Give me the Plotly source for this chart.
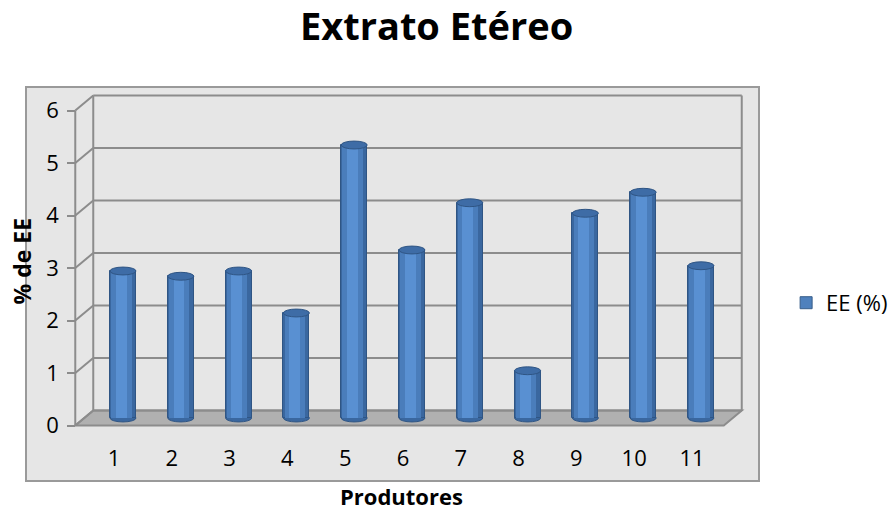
import plotly.graph_objects as go

# ---- data ----
categories = [1, 2, 3, 4, 5, 6, 7, 8, 9, 10, 11]
ee_values = [2.8, 2.7, 2.8, 2.0, 5.2, 3.2, 4.1, 0.9, 3.9, 4.3, 2.9]
y_ticks = [0, 1, 2, 3, 4, 5, 6]
series_name = "EE (%)"
title_text = "Extrato Etéreo"
x_title = "Produtores"
y_title = "% de EE"

FONT = "Open Sans"
GRID = "#8c8c8c"

# ---- geometry (data units of the mid-depth axes) ----
X0, X1 = -0.678, 12.004
Y0, Y1 = -1.2, 6.305
DX, DY = 0.311, 0.286          # front -> back depth offset
BW = 0.45                      # cylinder width
RY = 0.075                     # ellipse half-height

xl = min(categories) - 0.5 - 0.17   # mid-depth left edge of floor
xr = max(categories) + 0.5 + 0.05   # mid-depth right edge
fxl, fxr = xl - DX / 2, xr - DX / 2  # front edges
bxl, bxr = xl + DX / 2, xr + DX / 2  # back edges
ymax = max(y_ticks)

fig = go.Figure()

# cylinder body: layered bars for shading
fig.add_trace(go.Bar(x=categories, y=ee_values, width=BW, name=series_name,
                     marker=dict(color="#3a679f", line=dict(color="#2f5584", width=1)),
                     showlegend=False, hoverinfo="skip"))
fig.add_trace(go.Bar(x=categories, y=ee_values, width=BW * 0.78, offset=-BW * 0.45,
                     marker=dict(color="#4a7dbb", line=dict(width=0)),
                     showlegend=False, hoverinfo="skip"))
fig.add_trace(go.Bar(x=categories, y=ee_values, width=BW * 0.42, offset=-BW * 0.28,
                     marker=dict(color="#5990d2", line=dict(width=0)),
                     showlegend=False, hoverinfo="skip"))
# legend entry + activation of secondary axes
fig.add_trace(go.Bar(x=categories, y=[None] * len(categories), xaxis="x2", yaxis="y2",
                     name=series_name,
                     marker=dict(color="#4f81bd", line=dict(color="#385d8a", width=1)),
                     showlegend=True, hoverinfo="skip"))

shapes = []
# floor
shapes.append(dict(type="path", xref="x", yref="y", layer="below",
                   path=f"M {fxl},{-DY/2} L {fxr},{-DY/2} L {bxr},{DY/2} L {bxl},{DY/2} Z",
                   fillcolor="#b0b0b0", line=dict(color=GRID, width=2)))
# back wall gridlines + side diagonals
for v in y_ticks:
    shapes.append(dict(type="line", xref="x", yref="y", layer="below",
                       x0=bxl, x1=bxr, y0=v + DY / 2, y1=v + DY / 2,
                       line=dict(color=GRID, width=2)))
    shapes.append(dict(type="line", xref="x", yref="y", layer="below",
                       x0=fxl, x1=bxl, y0=v - DY / 2, y1=v + DY / 2,
                       line=dict(color=GRID, width=2)))
# back wall verticals
for xx in (bxl, bxr):
    shapes.append(dict(type="line", xref="x", yref="y", layer="below",
                       x0=xx, x1=xx, y0=DY / 2, y1=ymax + DY / 2,
                       line=dict(color=GRID, width=2)))
# front axis line
shapes.append(dict(type="line", xref="x", yref="y", layer="below",
                   x0=fxl, x1=fxl, y0=-DY / 2, y1=ymax - DY / 2,
                   line=dict(color=GRID, width=2)))
# cylinder bottom and top ellipses
for c, v in zip(categories, ee_values):
    shapes.append(dict(type="circle", xref="x", yref="y", layer="below",
                       x0=c - BW / 2, x1=c + BW / 2, y0=-RY, y1=RY,
                       fillcolor="#3a679f", line=dict(color="#2f5584", width=1)))
    shapes.append(dict(type="circle", xref="x", yref="y", layer="above",
                       x0=c - BW / 2, x1=c + BW / 2, y0=v - RY, y1=v + RY,
                       fillcolor="#3e6ca6", line=dict(color="#2f5584", width=1)))
# outer plot-area border
shapes.append(dict(type="rect", xref="paper", yref="paper", x0=0, x1=1, y0=0, y1=1,
                   line=dict(color="#9a9a9a", width=2), layer="above"))

fig.update_layout(
    width=891, height=511,
    margin=dict(l=26, r=132, t=87, b=30, autoexpand=False),
    paper_bgcolor="white", plot_bgcolor="#e6e6e6",
    barmode="overlay", bargap=0,
    font=dict(family=FONT, size=21, color="black"),
    title=dict(text=f"<b>{title_text}</b>", font=dict(family=FONT, size=38, color="black"),
               xref="container", yref="container", x=0.49, y=0.947,
               xanchor="center", yanchor="middle"),
    xaxis=dict(range=[X0, X1], visible=False, fixedrange=True),
    yaxis=dict(range=[Y0, Y1], visible=False, fixedrange=True),
    xaxis2=dict(range=[X0 + DX / 2, X1 + DX / 2], overlaying="x", anchor="free",
                position=0.096, tickvals=categories, ticktext=[str(c) for c in categories],
                showgrid=False, showline=False, zeroline=False, ticks="",
                tickfont=dict(family=FONT, size=22, color="black"), fixedrange=True),
    yaxis2=dict(range=[Y0 + DY / 2, Y1 + DY / 2], overlaying="y", anchor="free",
                position=(fxl - X0) / (X1 - X0), tickvals=y_ticks,
                showgrid=False, showline=False, zeroline=False,
                ticks="outside", ticklen=8, tickwidth=2, tickcolor=GRID,
                ticklabelstandoff=4,
                tickfont=dict(family=FONT, size=22, color="black"), fixedrange=True),
    legend=dict(x=1.037, y=0.452, xanchor="left", yanchor="middle",
                bgcolor="rgba(0,0,0,0)", font=dict(family=FONT, size=22),
                itemwidth=30),
    shapes=shapes,
    annotations=[
        dict(text=f"<b>{y_title}</b>", xref="paper", yref="paper", x=-0.005, y=0.558,
             textangle=-90, showarrow=False, font=dict(family=FONT, size=23),
             xanchor="center", yanchor="middle"),
        dict(text=f"<b>{x_title}</b>", xref="paper", yref="paper", x=0.5116, y=-0.038,
             showarrow=False, font=dict(family=FONT, size=22),
             xanchor="center", yanchor="middle"),
    ],
)

fig.write_html("out.html")
